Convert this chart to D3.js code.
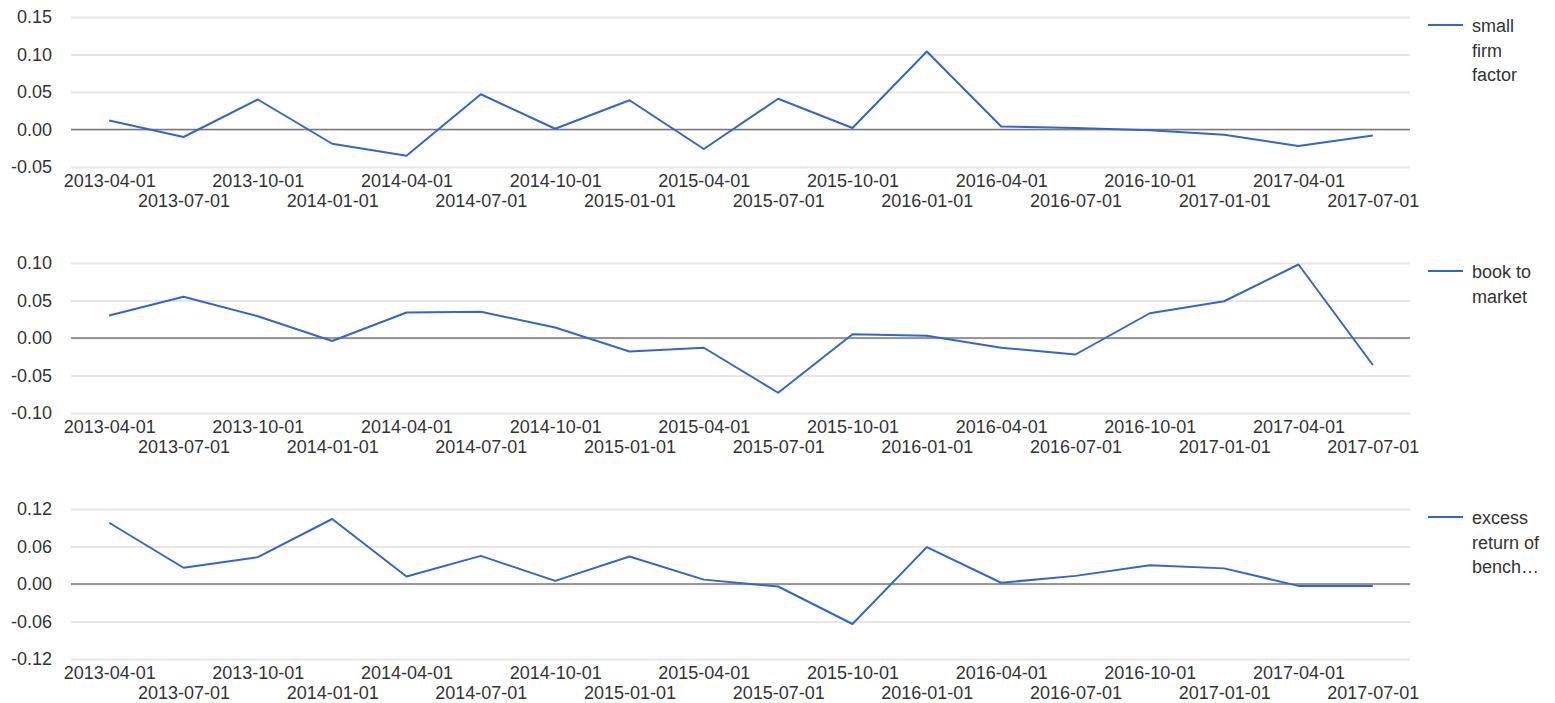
<html>
<head>
<script src="https://cdn.jsdelivr.net/npm/d3@7"></script>
<style>
  body { margin: 0; background: #fff; }
  text { font-family: "Liberation Sans", Arial, sans-serif; }
</style>
</head>
<body>
<script>
// quarterly dates (discrete x axis)
const dates = ["2013-04-01","2013-07-01","2013-10-01","2014-01-01","2014-04-01","2014-07-01",
  "2014-10-01","2015-01-01","2015-04-01","2015-07-01","2015-10-01","2016-01-01",
  "2016-04-01","2016-07-01","2016-10-01","2017-01-01","2017-04-01","2017-07-01"];

const smallFirm = [0.012,-0.010,0.040,-0.019,-0.035,0.047,0.001,0.039,-0.026,0.041,0.002,0.104,
  0.004,0.002,-0.001,-0.007,-0.022,-0.008];
const bookToMarket = [0.030,0.055,0.029,-0.004,0.034,0.035,0.014,-0.018,-0.013,-0.073,0.005,0.003,
  -0.013,-0.022,0.033,0.049,0.098,-0.036];
const excessReturn = [0.098,0.026,0.043,0.104,0.012,0.045,0.005,0.044,0.007,-0.004,-0.064,0.059,
  0.002,0.013,0.030,0.025,-0.003,-0.003];

const ticks1 = [-0.05, 0, 0.05, 0.10, 0.15];
const ticks2 = [-0.10, -0.05, 0, 0.05, 0.10];
const ticks3 = [-0.12, -0.06, 0, 0.06, 0.12];

const legend1 = ["small", "firm", "factor"];
const legend2 = ["book to", "market"];
const legend3 = ["excess", "return of", "bench\u2026"];

const panels = [
  {values: smallFirm, ticks: ticks1, legend: legend1},
  {values: bookToMarket, ticks: ticks2, legend: legend2},
  {values: excessReturn, ticks: ticks3, legend: legend3}
];

const width = 1555, height = 703;
const panelH = 246;
const plotLeft = 72, plotRight = 1410, plotTop = 17, plotH = 150;

const svg = d3.select("body").append("svg")
  .attr("width", width).attr("height", height);

const x = d3.scalePoint()
  .domain(dates)
  .range([plotLeft, plotRight])
  .padding(0.5);

panels.forEach((p, i) => {
  const g = svg.append("g").attr("transform", `translate(0,${i * panelH})`);

  const y = d3.scaleLinear()
    .domain(d3.extent(p.ticks))
    .range([plotTop + plotH, plotTop]);

  // y axis with gridlines
  g.append("g")
    .attr("transform", `translate(${plotLeft - 1},0)`)
    .call(d3.axisLeft(y).tickValues(p.ticks).tickSize(-(plotRight - plotLeft + 1)).tickPadding(19)
      .tickFormat(d => d.toFixed(2)))
    .call(a => a.select(".domain").remove())
    .call(a => a.selectAll(".tick line").attr("stroke", "#e6e6e6").attr("stroke-width", 2))
    .call(a => a.selectAll(".tick text").attr("fill", "#333").style("font-size", "18px")
      .style("font-family", "'Liberation Sans', Arial, sans-serif"));

  // zero baseline
  g.append("line")
    .attr("x1", plotLeft - 1).attr("x2", plotRight)
    .attr("y1", y(0)).attr("y2", y(0))
    .attr("stroke", "#7a7a7a").attr("stroke-width", 1.6);

  // x axis, labels staggered on two rows
  g.append("g")
    .attr("transform", `translate(0,${plotTop + plotH})`)
    .call(d3.axisBottom(x).tickSize(0))
    .call(a => a.select(".domain").remove())
    .call(a => a.selectAll(".tick text")
      .attr("y", (d, j) => j % 2 === 0 ? 14 : 34)
      .attr("dy", "0.35em")
      .attr("fill", "#333").style("font-size", "18px")
      .style("font-family", "'Liberation Sans', Arial, sans-serif"));

  // series line
  const line = d3.line()
    .x((d, j) => x(dates[j]))
    .y(d => y(d));

  g.append("path")
    .datum(p.values)
    .attr("fill", "none")
    .attr("stroke", "#3366cc")
    .attr("stroke-width", 2)
    .attr("stroke-linejoin", "round")
    .attr("d", line);

  // legend
  g.append("line")
    .attr("x1", 1428).attr("x2", 1463)
    .attr("y1", 25).attr("y2", 25)
    .attr("stroke", "#3366cc").attr("stroke-width", 2);

  g.append("text")
    .attr("x", 1472)
    .attr("fill", "#333")
    .style("font-size", "18px")
    .selectAll("tspan")
    .data(p.legend)
    .join("tspan")
      .attr("x", 1472)
      .attr("y", (d, j) => 26 + j * 24.5)
      .attr("dy", "0.35em")
      .text(d => d);
});
</script>
</body>
</html>
